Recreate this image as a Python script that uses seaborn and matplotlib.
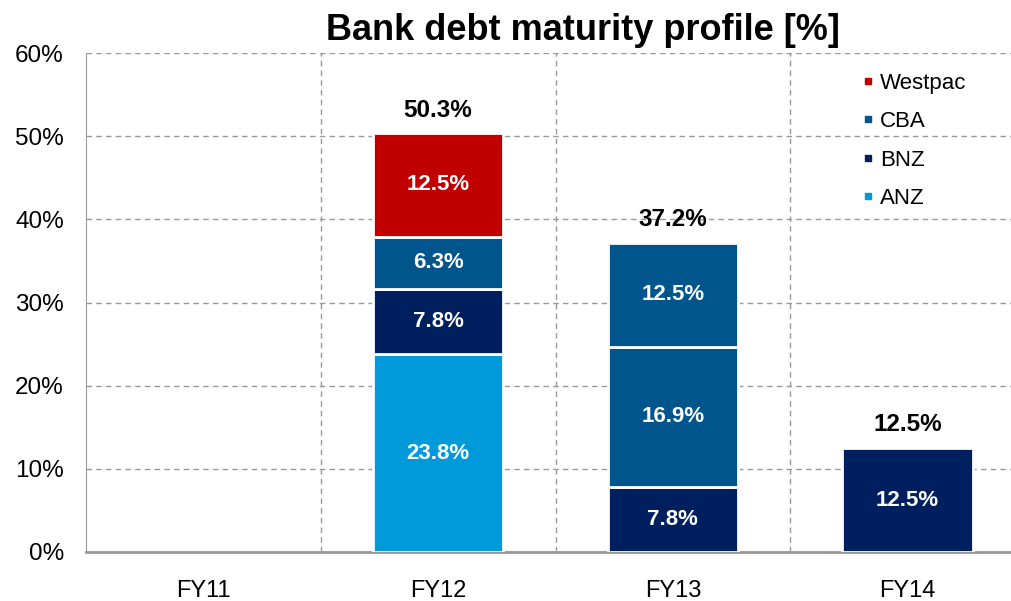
import matplotlib.pyplot as plt
import seaborn as sns

years = ["FY11", "FY12", "FY13", "FY14"]
seg_year = ["FY12", "FY12", "FY12", "FY12", "FY13", "FY13", "FY13", "FY14"]
seg_bank = ["ANZ", "BNZ", "CBA", "Westpac", "BNZ", "CBA", "CBA", "BNZ"]
seg_value = [23.8, 7.8, 6.3, 12.5, 7.8, 16.9, 12.5, 12.5]
total_year = ["FY12", "FY13", "FY14"]
total_value = [50.3, 37.2, 12.5]

banks = ["Westpac", "CBA", "BNZ", "ANZ"]
colors = {"Westpac": "#C00000", "CBA": "#00558C", "BNZ": "#001F5F", "ANZ": "#0099DA"}

sns.set_style("white")
plt.rcParams["font.family"] = ["Liberation Sans", "DejaVu Sans"]
plt.rcParams["text.color"] = "black"
plt.rcParams["xtick.labelcolor"] = "black"
plt.rcParams["ytick.labelcolor"] = "black"

fig = plt.figure(figsize=(10.12, 6.01), dpi=100)
ax = fig.add_axes([86 / 1012, 1 - 552 / 601, (1025 - 86) / 1012, (552 - 53) / 601])

bottoms = {y: 0.0 for y in years}
for y, b, v in zip(seg_year, seg_bank, seg_value):
    x = years.index(y)
    ax.bar(x, v, width=0.555, bottom=bottoms[y], color=colors[b],
           edgecolor="white", linewidth=2, zorder=3)
    ax.text(x, bottoms[y] + v / 2, f"{v:.1f}%", ha="center", va="center",
            color="white", fontsize=16, fontweight="bold", zorder=4)
    bottoms[y] += v

for y, t in zip(total_year, total_value):
    ax.text(years.index(y), t + 1.4, f"{t:.1f}%", ha="center", va="bottom",
            color="black", fontsize=17.5, fontweight="bold", zorder=4)

ax.set_xlim(-0.5, 3.5)
ax.set_ylim(0, 60)
ax.set_yticks(range(0, 61, 10))
ax.set_yticklabels([f"{v}%" for v in range(0, 61, 10)], fontsize=17.5)
ax.set_xticks(range(4))
ax.set_xticklabels(years, fontsize=17)
ax.set_xticks([0.5, 1.5, 2.5], minor=True)
ax.tick_params(axis="x", which="major", length=0, pad=20)
ax.tick_params(axis="x", which="minor", length=6, color="#999999", direction="out")
ax.tick_params(axis="y", length=6, color="#999999", direction="out", pad=10)

ax.yaxis.grid(True, linestyle=(0, (4, 3)), color="#999999", linewidth=1, zorder=0)
ax.xaxis.grid(True, which="minor", linestyle=(0, (4, 3)), color="#999999", linewidth=1, zorder=0)

for side in ["top", "right"]:
    ax.spines[side].set_visible(False)
ax.spines["left"].set_color("#999999")
ax.spines["bottom"].set_color("#999999")
ax.spines["bottom"].set_linewidth(2)

handles = [plt.Line2D([], [], marker="s", linestyle="none", markersize=5,
                      color=colors[b]) for b in banks]
ax.legend(handles, banks, loc="upper left", bbox_to_anchor=(0.816, 0.978),
          frameon=False, fontsize=16, handletextpad=0.25, labelspacing=0.78,
          handlelength=0.6, borderaxespad=0)

fig.text(583 / 1012, 1 - 31 / 601, "Bank debt maturity profile [%]", ha="center",
         va="center", fontsize=26, fontweight="bold")

fig.savefig("out.png", dpi=100)
